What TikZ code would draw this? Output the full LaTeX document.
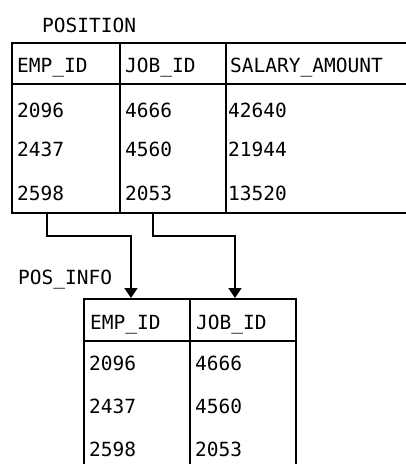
\documentclass[tikz,border=0pt]{standalone}
\usepackage{fontspec}
\setmonofont{DejaVu Sans Mono}
\usepackage{tikz}
\usetikzlibrary{arrows.meta,calc}

\begin{document}
\begin{tikzpicture}[x=1pt, y=-1pt,
  headcell/.style={draw=black, line width=1.8pt, anchor=north west,
    inner sep=0pt},
  bodycell/.style={draw=black, line width=1.8pt, anchor=north west,
    inner sep=0pt},
  celltext/.style={anchor=base west, inner sep=0pt,
    font=\ttfamily\fontsize{19.5}{22}\selectfont},
  link/.style={-{Triangle[length=10pt,width=13pt]}, line width=1.8pt}
]
\useasboundingbox (0,0) rectangle (406,464);
\clip (0,0) rectangle (406,464);

% POSITION table
\node[celltext] (pos-title) at (42,32) {POSITION};
\node[headcell, minimum width=108pt, minimum height=41pt] (pos-emp-head) at (11,42) {};
\node[headcell, minimum width=106pt, minimum height=41pt] (pos-job-head) at (119,42) {};
\node[headcell, minimum width=200pt, minimum height=41pt] (pos-sal-head) at (225,42) {};
\node[bodycell, minimum width=108pt, minimum height=129pt] (pos-emp-body) at (11,83) {};
\node[bodycell, minimum width=106pt, minimum height=129pt] (pos-job-body) at (119,83) {};
\node[bodycell, minimum width=200pt, minimum height=129pt] (pos-sal-body) at (225,83) {};

\node[celltext] (pos-emp) at (17,72) {EMP\_ID};
\node[celltext] (pos-job) at (125,72) {JOB\_ID};
\node[celltext] (pos-sal) at (230,72) {SALARY\_AMOUNT};
\node[celltext] (pos-emp1) at (17,117) {2096};
\node[celltext] (pos-job1) at (125,117) {4666};
\node[celltext] (pos-sal1) at (228,117) {42640};
\node[celltext] (pos-emp2) at (17,156) {2437};
\node[celltext] (pos-job2) at (125,156) {4560};
\node[celltext] (pos-sal2) at (228,156) {21944};
\node[celltext] (pos-emp3) at (17,200) {2598};
\node[celltext] (pos-job3) at (125,200) {2053};
\node[celltext] (pos-sal3) at (228,200) {13520};

% POS_INFO table
\node[celltext] (info-title) at (18,284) {POS\_INFO};
\node[headcell, minimum width=106pt, minimum height=42pt] (info-emp-head) at (83,298) {};
\node[headcell, minimum width=106pt, minimum height=42pt] (info-job-head) at (189,298) {};
\node[bodycell, minimum width=106pt, minimum height=140pt] (info-emp-body) at (83,340) {};
\node[bodycell, minimum width=106pt, minimum height=140pt] (info-job-body) at (189,340) {};

\node[celltext] (info-emp) at (90,329) {EMP\_ID};
\node[celltext] (info-job) at (196,329) {JOB\_ID};
\node[celltext] (info-emp1) at (89,370) {2096};
\node[celltext] (info-job1) at (195,370) {4666};
\node[celltext] (info-emp2) at (89,413) {2437};
\node[celltext] (info-job2) at (195,413) {4560};
\node[celltext] (info-emp3) at (89,456) {2598};
\node[celltext] (info-job3) at (195,456) {2053};

% column links
\coordinate (emp-out) at ($(pos-emp-body.south west)+(36,0)$);
\coordinate (emp-in) at ($(info-emp-head.north west)+(48,0)$);
\coordinate (job-out) at ($(pos-job-body.south west)+(34,0)$);
\coordinate (job-in) at ($(info-job-head.north west)+(46,0)$);
\draw[link] (emp-out) -- ++(0,22) -| (emp-in);
\draw[link] (job-out) -- ++(0,22) -| (job-in);
\end{tikzpicture}
\end{document}
